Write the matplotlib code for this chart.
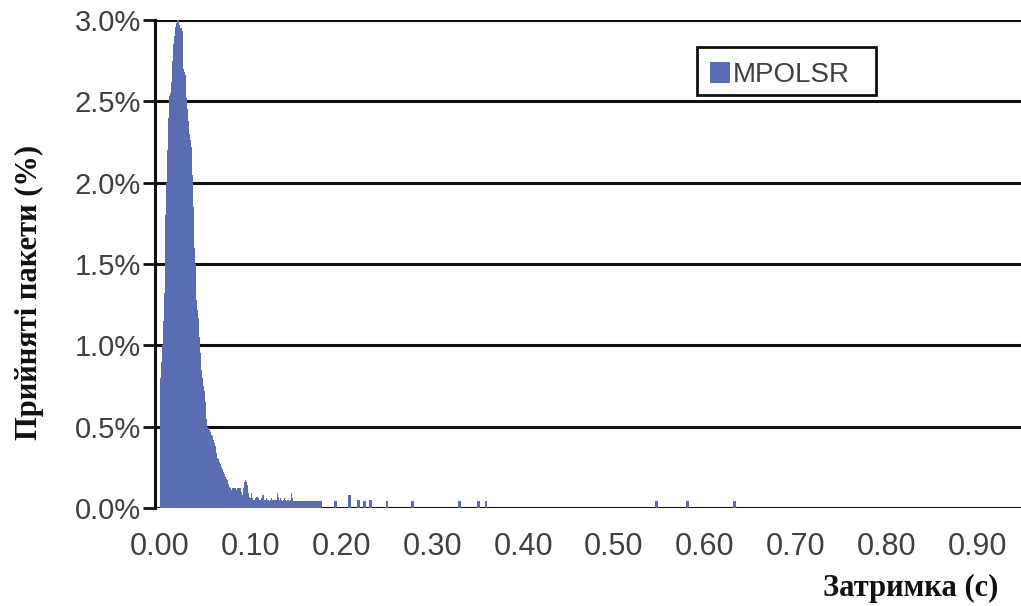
import matplotlib
matplotlib.use("Agg")
import matplotlib.pyplot as plt
from matplotlib.patches import Rectangle
import numpy as np

# ---- data ----
# main body: received packets (%) per 0.001 s delay bin, starting at 0.000 s
main_start = 0.000
bin_width = 0.001
main_pct = [
    0.80, 0.90, 1.00, 1.15, 1.32, 1.55, 1.80, 2.00, 2.20, 2.40,
    2.53, 2.55, 2.62, 2.75, 2.85, 2.90, 2.93, 2.96, 2.98, 3.00,
    3.00, 2.97, 2.95, 2.95, 2.93, 2.70, 2.68, 2.66, 2.60, 2.52,
    2.45, 2.38, 2.30, 2.26, 2.22, 2.05, 1.85, 1.60, 1.50, 1.35,
    1.28, 1.22, 1.17, 1.05, 0.95, 0.85, 0.80, 0.75, 0.72, 0.65,
    0.60, 0.55, 0.50, 0.49, 0.48, 0.47, 0.45, 0.44, 0.42, 0.40,
    0.38, 0.36, 0.34, 0.31, 0.30, 0.28, 0.27, 0.25, 0.24, 0.22,
    0.21, 0.20, 0.19, 0.18, 0.17, 0.15, 0.13, 0.12, 0.11, 0.12,
    0.12, 0.12, 0.12, 0.12, 0.11, 0.12, 0.12, 0.12, 0.12, 0.10,
    0.08, 0.12, 0.15, 0.16, 0.17, 0.16, 0.14, 0.09, 0.07, 0.06,
    0.09, 0.06, 0.05, 0.05, 0.05, 0.06, 0.07, 0.07, 0.06, 0.05,
    0.05, 0.06, 0.08, 0.08, 0.05, 0.04, 0.05, 0.06, 0.05, 0.05,
    0.04, 0.05, 0.06, 0.05, 0.05, 0.05, 0.04, 0.05, 0.05, 0.09,
    0.07, 0.05, 0.06, 0.05, 0.04, 0.04, 0.05, 0.06, 0.05, 0.04,
    0.05, 0.05, 0.04, 0.05, 0.09, 0.06, 0.04, 0.04, 0.04, 0.04,
    0.04, 0.04, 0.04, 0.04, 0.04, 0.04, 0.04, 0.04, 0.04, 0.04,
    0.04, 0.04, 0.04, 0.04, 0.04, 0.04, 0.04, 0.04, 0.04, 0.04,
    0.04, 0.04, 0.04, 0.04, 0.04, 0.04, 0.04, 0.04,
]
# isolated late arrivals
tail_delay = [0.193, 0.209, 0.219, 0.225, 0.232, 0.250, 0.278, 0.330,
              0.351, 0.359, 0.547, 0.581, 0.633]
tail_pct = [0.04, 0.08, 0.05, 0.04, 0.05, 0.04, 0.04, 0.04,
            0.04, 0.04, 0.04, 0.04, 0.04]

series_name = "MPOLSR"
x_ticks = [0.0, 0.1, 0.2, 0.3, 0.4, 0.5, 0.6, 0.7, 0.8, 0.9]
x_ticklabels = ["0.00", "0.10", "0.20", "0.30", "0.40", "0.50",
                "0.60", "0.70", "0.80", "0.90"]
y_ticks = [0.0, 0.5, 1.0, 1.5, 2.0, 2.5, 3.0]
y_ticklabels = ["0.0%", "0.5%", "1.0%", "1.5%", "2.0%", "2.5%", "3.0%"]
x_title = "Затримка (с)"
y_title = "Прийняті пакети (%)"

# ---- style ----
W, H = 1021, 606
bar_color = "#5a6db3"
label_color = "#404040"
line_color = "#111111"
x0_px = 160.0
px_per_unit = 907.8

fig = plt.figure(figsize=(W / 100, H / 100), dpi=100)
ax = fig.add_axes([155 / W, 1 - 508 / H, 1 - 155 / W, (508 - 20) / H])

main_x = main_start + bin_width * np.arange(len(main_pct))
ax.bar(main_x, main_pct, width=bin_width * 1.15, align="edge",
       color=bar_color, linewidth=0, zorder=3, label=series_name)
ax.bar(tail_delay, tail_pct, width=0.003, align="center",
       color=bar_color, linewidth=0, zorder=3)

ax.set_xlim((155 - x0_px) / px_per_unit, (W - x0_px) / px_per_unit)
ax.set_ylim(0, 3.0)

ax.set_xticks(x_ticks)
ax.set_xticklabels(x_ticklabels)
ax.set_yticks(y_ticks)
ax.set_yticklabels(y_ticklabels)

ax.tick_params(axis="x", length=0, pad=17, labelsize=22, labelcolor=label_color)
ax.tick_params(axis="y", length=9, width=2, pad=1, labelsize=21,
               labelcolor=label_color, color=line_color, direction="out")
for lab in ax.get_xticklabels() + ax.get_yticklabels():
    lab.set_family("Liberation Sans")

ax.yaxis.grid(True, color=line_color, linewidth=2.2, zorder=1)
ax.set_axisbelow(True)
for s in ["top", "right", "bottom"]:
    ax.spines[s].set_visible(False)
ax.spines["left"].set_color(line_color)
ax.spines["left"].set_linewidth(2.2)
ax.spines["left"].set_zorder(4)

leg = ax.legend(loc="upper left", bbox_to_anchor=(697 / W, 1 - 49 / H),
                bbox_transform=fig.transFigure, borderaxespad=0,
                frameon=False,
                prop={"family": "Liberation Sans", "size": 20},
                handlelength=0.75, handleheight=0.8, handletextpad=0.1,
                borderpad=0.45, labelcolor=label_color)
# legend box outline
fig.patches.append(Rectangle((697 / W, 1 - 95 / H), (876 - 697) / W, (95 - 47) / H,
                             transform=fig.transFigure, fill=False,
                             edgecolor="#111111", linewidth=2, zorder=5))

fig.text(29 / W, 1 - 292 / H, y_title, rotation=90, ha="center", va="center",
         family="Liberation Serif", fontsize=22, fontweight="bold", color="#111111")
fig.text(911 / W, 1 - 588 / H, x_title, ha="center", va="center",
         family="Liberation Serif", fontsize=22, fontweight="bold", color="#111111")

fig.savefig("out.png", dpi=100)
